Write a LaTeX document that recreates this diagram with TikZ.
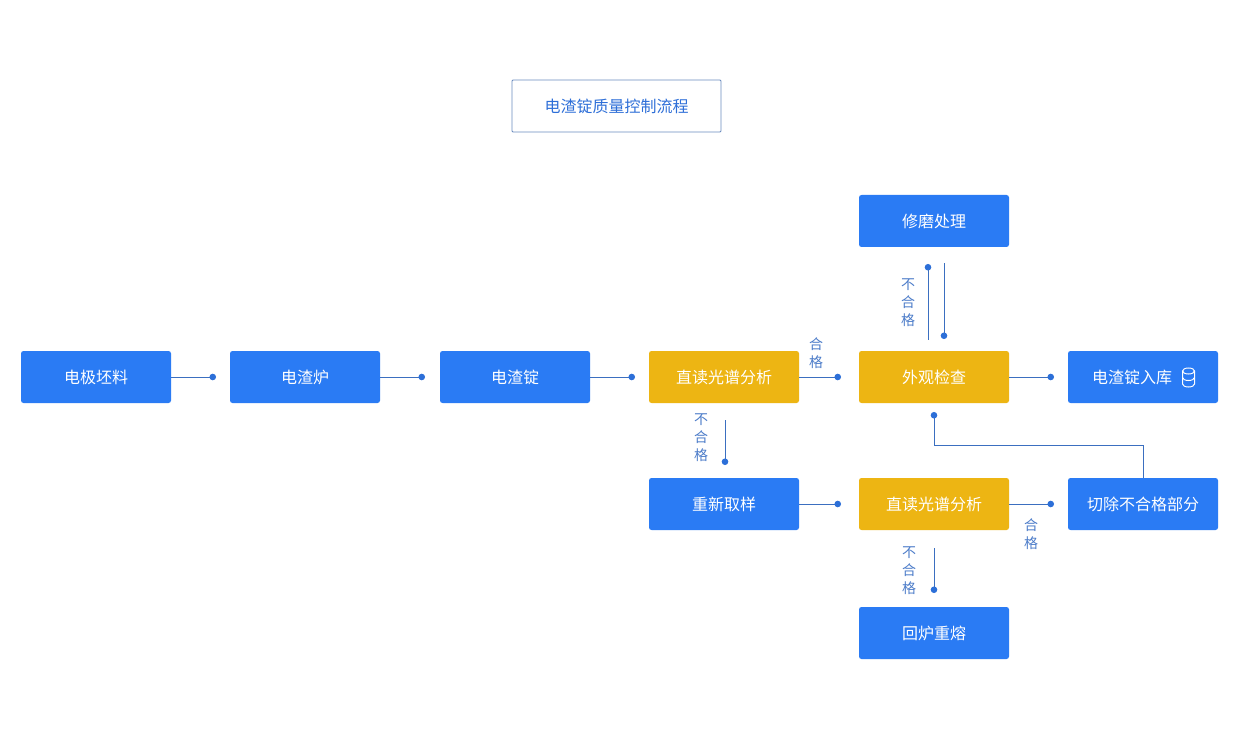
\documentclass[tikz,border=0pt]{standalone}
\usepackage{fontspec}
\newfontfamily\cjk{Noto Sans CJK SC}
\usetikzlibrary{arrows.meta,calc}
\definecolor{boxblue}{HTML}{2A7BF4}
\definecolor{boxyellow}{HTML}{EDB513}
\definecolor{linecol}{HTML}{3B6FC0}
\definecolor{dotcol}{HTML}{2C6FD8}
\definecolor{labcol}{HTML}{4C7CC9}
\definecolor{titleborder}{HTML}{6A8BBE}
\definecolor{titletext}{HTML}{2E6FD8}
\begin{document}
\begin{tikzpicture}[x=1pt,y=-1pt,
  box/.style={rectangle,rounded corners=2.5pt,minimum width=150pt,minimum height=52pt,inner sep=0pt,
    font=\cjk\fontsize{16}{18}\selectfont,text=white},
  bluebox/.style={box,fill=boxblue},
  yellowbox/.style={box,fill=boxyellow},
  titlebox/.style={rectangle,rounded corners=1pt,draw=titleborder,line width=0.8pt,fill=white,
    minimum width=209pt,minimum height=52pt,font=\cjk\fontsize{16}{18}\selectfont,text=titletext},
  conn/.style={draw=linecol,line width=1pt,-{Circle[length=6.5pt,color=dotcol]}},
  lab/.style={font=\cjk\fontsize{14}{18}\selectfont,text=labcol,align=center,inner sep=0pt},
  icon/.style={draw=white,line width=1pt}
]
\useasboundingbox (0,0) rectangle (1260,735);
\fill[white] (0,0) rectangle (1260,735);

\node[titlebox] (title) at (616.5,106) {电渣锭质量控制流程};

\node[bluebox] (n1) at (96,377) {电极坯料};
\node[bluebox] (n2) at (305,377) {电渣炉};
\node[bluebox] (n3) at (515,377) {电渣锭};
\node[yellowbox] (n4) at (724,377) {直读光谱分析};
\node[yellowbox] (n5) at (934,377) {外观检查};
\node[bluebox] (n10) at (1143,377) {\hspace*{-22pt}电渣锭入库};
\node[bluebox] (n6) at (934,221) {修磨处理};
\node[bluebox] (n7) at (724,504) {重新取样};
\node[yellowbox] (n8) at (934,504) {直读光谱分析};
\node[bluebox] (n9) at (1143,504) {切除不合格部分};
\node[bluebox] (n11) at (934,633) {回炉重熔};

% database icon
\coordinate (ic) at (1188.5,371);
\draw[icon] (ic) ellipse [x radius=6, y radius=3];
\draw[icon] ($(ic)+(-6,0)$) -- ($(ic)+(-6,13)$) arc (180:0:6 and 3) -- ($(ic)+(6,0)$);
\draw[icon] ($(ic)+(-6,6.5)$) arc (180:0:6 and 3);

% end coordinates
\coordinate (d1) at (216,377);
\coordinate (d2) at (425,377);
\coordinate (d3) at (635,377);
\coordinate (d4) at (841,377);
\coordinate (d5) at (1054,377);
\coordinate (d6) at (928,264);
\coordinate (d7) at (944,339);
\coordinate (d8) at (725,465);
\coordinate (d9) at (841,504);
\coordinate (d10) at (1054,504);
\coordinate (d11) at (934,593);
\coordinate (d12) at (934,412);

\draw[conn] (n1.east) -- (d1);
\draw[conn] (n2.east) -- (d2);
\draw[conn] (n3.east) -- (d3);
\draw[conn] (n4.east) -- (d4);
\draw[conn] (n5.east) -- (d5);
\draw[conn] ([xshift=-6pt,yshift=11pt]n5.north) -- (d6);
\draw[conn] ([xshift=10pt,yshift=-16pt]n6.south) -- (d7);
\draw[conn] ([xshift=1pt,yshift=-17pt]n4.south) -- (d8);
\draw[conn] (n7.east) -- (d9);
\draw[conn] (n8.east) -- (d10);
\draw[conn] ([yshift=-18pt]n8.south) -- (d11);
\draw[conn] (n9.north) -- (1143,445) -- (934,445) -- (d12);

% labels
\node[lab] (l1) at (816,353) {合\\格};
\node[lab] (l2) at (908,303) {不\\合\\格};
\node[lab] (l3) at (701,438) {不\\合\\格};
\node[lab] (l4) at (1031,534) {合\\格};
\node[lab] (l5) at (909,571) {不\\合\\格};
\end{tikzpicture}
\end{document}
